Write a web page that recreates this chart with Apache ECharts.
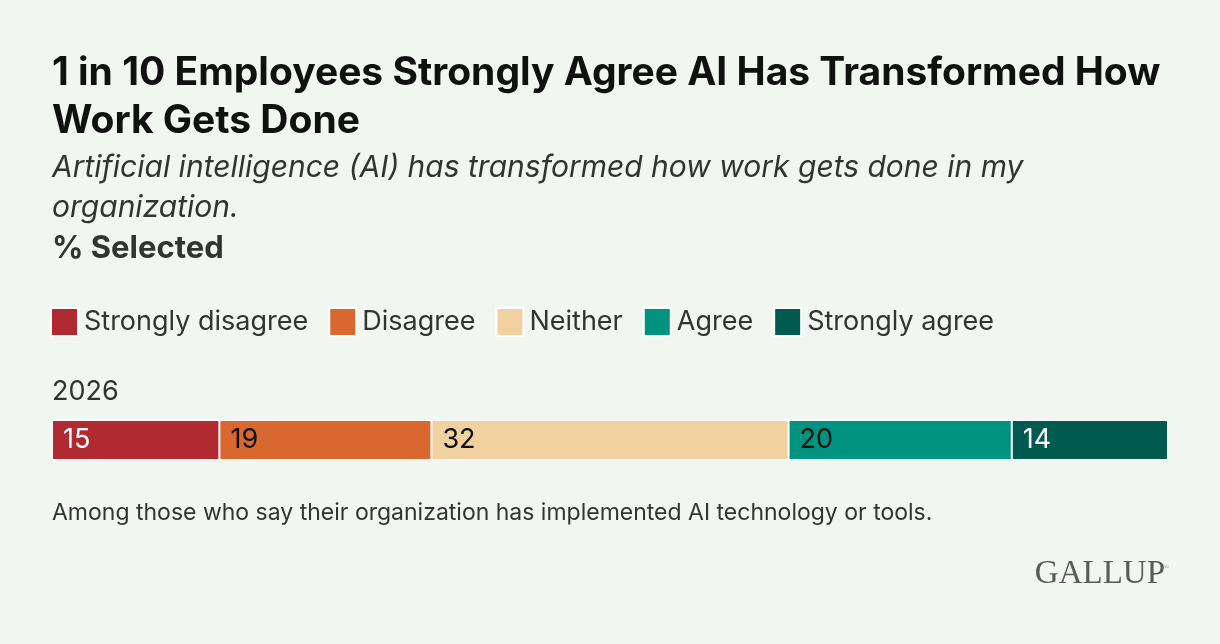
<!DOCTYPE html>
<html>
<head>
<meta charset="utf-8">
<script src="https://cdn.jsdelivr.net/npm/echarts@6/dist/echarts.min.js"></script>
<style>
  html, body { margin: 0; padding: 0; background: #f1f7f0; }
  #chart { width: 1220px; height: 644px; }
</style>
</head>
<body>
<div id="chart"></div>
<script>
    "use strict";

    const years = ["2026"];
    const seriesNames = ["Strongly disagree", "Disagree", "Neither", "Agree", "Strongly agree"];
    const stronglyDisagree = [15];
    const disagree = [19];
    const neither = [32];
    const agree = [20];
    const stronglyAgree = [14];

    const colors = ["#b12a32", "#d96830", "#f1d19f", "#009380", "#005a50"];
    const labelColors = ["#ffffff", "#111111", "#111111", "#111111", "#ffffff"];
    const values = [stronglyDisagree, disagree, neither, agree, stronglyAgree];
    const font = "Inter, 'Noto Sans', sans-serif";

    const myChart = echarts.init(document.getElementById("chart"));

    let options = {
        backgroundColor: "#f1f7f0",
        textStyle: { fontFamily: font },
        graphic: [
            {
                type: "text", left: 52, top: 49,
                style: {
                    text: "1 in 10 Employees Strongly Agree AI Has Transformed How\nWork Gets Done",
                    font: "bold 39px " + font, fill: "#111111", lineHeight: 48
                }
            },
            {
                type: "text", left: 52, top: 148,
                style: {
                    text: "Artificial intelligence (AI) has transformed how work gets done in my\norganization.",
                    font: "italic 30px " + font, fill: "#333333", lineHeight: 40
                }
            },
            {
                type: "text", left: 52, top: 233,
                style: { text: "% Selected", font: "bold 31px " + font, fill: "#333333" }
            },
            {
                type: "text", left: 52, top: 378,
                style: { text: years[0], font: "27px " + font, fill: "#333333" }
            },
            {
                type: "text", left: 52, top: 502,
                style: {
                    text: "Among those who say their organization has implemented AI technology or tools.",
                    font: "23px " + font, fill: "#333333"
                }
            },
            {
                type: "text", right: 55, top: 558,
                style: { text: "GALLUP", font: "33px 'Liberation Serif', serif", fill: "#5a5a5a" }
            },
            {
                type: "text", right: 51, top: 564,
                style: { text: "®", font: "7px 'Liberation Serif', serif", fill: "#8a8a8a" }
            }
        ],
        legend: {
            data: seriesNames,
            left: 50,
            top: 307,
            padding: 0,
            icon: "rect",
            itemWidth: 27,
            itemHeight: 28,
            itemGap: 20,
            selectedMode: false,
            textStyle: { fontSize: 27, color: "#333333", fontFamily: font, padding: [0, 0, 0, 1] }
        },
        grid: { left: 52, right: 52, top: 420, height: 40 },
        xAxis: { type: "value", min: 0, max: 100, show: false },
        yAxis: { type: "category", data: years, show: false },
        series: seriesNames.map(function (name, i) {
            return {
                name: name,
                type: "bar",
                stack: "total",
                barWidth: 40,
                data: values[i],
                itemStyle: { color: colors[i], borderColor: "#ffffff", borderWidth: 1 },
                label: {
                    show: true,
                    position: "insideLeft",
                    distance: 11,
                    fontSize: 27,
                    fontFamily: font,
                    color: labelColors[i]
                }
            };
        })
    };
    myChart.setOption(options);
</script>
</body>
</html>
